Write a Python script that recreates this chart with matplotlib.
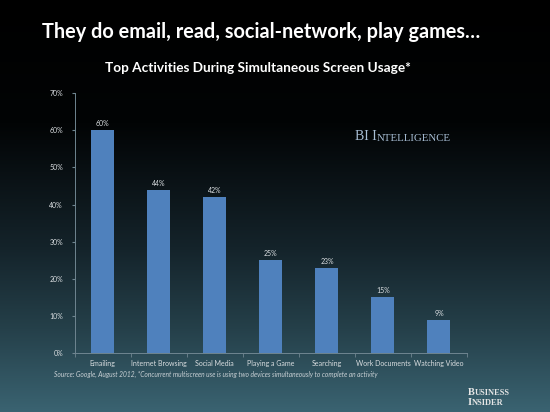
import numpy as np
import matplotlib.pyplot as plt
from matplotlib.colors import LinearSegmentedColormap

# data
categories = ['Emailing', 'Internet Browsing', 'Social Media', 'Playing a Game',
              'Searching', 'Work Documents', 'Watching Video']
shares = [60, 44, 42, 25, 23, 15, 9]
y_ticks = [0, 10, 20, 30, 40, 50, 60, 70]

TXT = '#d9dde0'
BAR = '#4f81bd'
AXC = '#6f8590'
SANS = 'Lato'
SERIF = 'Liberation Serif'

fig = plt.figure(figsize=(5.5, 4.12), dpi=100)

# background gradient: black on top -> dark teal at the bottom
bg = fig.add_axes([0, 0, 1, 1], zorder=-10)
cmap = LinearSegmentedColormap.from_list(
    'bg', [(0.0, '#000000'), (0.3, '#020405'), (0.6, '#14232a'),
           (0.8, '#25404a'), (1.0, '#3a6371')])
grad = np.linspace(0, 1, 256).reshape(-1, 1)
bg.imshow(grad, aspect='auto', cmap=cmap, extent=[0, 1, 0, 1], origin='upper')
bg.axis('off')

ax = fig.add_axes([0.136, 0.143, 0.713, 0.631])
ax.patch.set_alpha(0)
x = np.arange(len(categories))
ax.bar(x, shares, width=0.41, color=BAR, zorder=2)
for xi, v in zip(x, shares):
    ax.text(xi, v + 0.8, f'{v}%', ha='center', va='bottom', fontsize=5, color=TXT,
            family=SANS)

ax.set_xlim(-0.5, len(categories) - 0.5)
ax.set_ylim(0, 70)
ax.set_yticks(y_ticks)
ax.set_yticklabels([f'{t}%' for t in y_ticks], fontsize=5, color=TXT, family=SANS)
ax.set_xticks(x)
ax.set_xticklabels(categories, fontsize=5.0, color=TXT, family=SANS)
ax.tick_params(axis='x', length=0, pad=5)
ax.set_xticks(np.arange(-0.5, len(categories)), minor=True)
ax.tick_params(axis='x', which='minor', length=3, color=AXC)
ax.tick_params(axis='y', length=2.5, color=AXC, pad=6)
for s in ['top', 'right']:
    ax.spines[s].set_visible(False)
for s in ['left', 'bottom']:
    ax.spines[s].set_color(AXC)
    ax.spines[s].set_linewidth(0.7)

fig.text(0.474, 0.922, 'They do email, read, social-network, play games\u2026',
         ha='center', va='center', fontsize=14.3, fontweight='bold', color='white',
         family=SANS)
fig.text(0.469, 0.835, 'Top Activities During Simultaneous Screen Usage*',
         ha='center', va='center', fontsize=9.8, fontweight='bold', color='white',
         family=SANS)

# BI Intelligence watermark (small caps)
t1 = fig.text(0.645, 0.661, 'BI I', fontsize=10, color='#a9bfd6',
              family=SERIF, va='baseline', ha='left')
ax.annotate('NTELLIGENCE', xy=(1, 0), xycoords=t1, fontsize=7.8, color='#a9bfd6',
            family=SERIF, va='bottom', ha='left', annotation_clip=False)

fig.text(0.098, 0.09,
         'Source: Google, August 2012, *Concurrent multiscreen use is using two devices '
         'simultaneously to complete an activity',
         ha='left', va='center', fontsize=4.75, style='italic', color='#c8d0d4',
         family=SANS)

# Business Insider logo (small caps)
b1 = fig.text(0.851, 0.041, 'B', fontsize=7.5, color='#e6e6e6', fontweight='bold',
              family=SERIF, va='baseline', ha='left')
ax.annotate('USINESS', xy=(1, 0), xycoords=b1, fontsize=6.0, color='#e6e6e6',
            fontweight='bold', family=SERIF, va='bottom', ha='left',
            annotation_clip=False)
b2 = fig.text(0.851, 0.016, 'I', fontsize=7.5, color='#e6e6e6', fontweight='bold',
              family=SERIF, va='baseline', ha='left')
ax.annotate('NSIDER', xy=(1, 0), xycoords=b2, fontsize=6.0, color='#e6e6e6',
            fontweight='bold', family=SERIF, va='bottom', ha='left',
            annotation_clip=False)

fig.savefig('out.png', dpi=100)
